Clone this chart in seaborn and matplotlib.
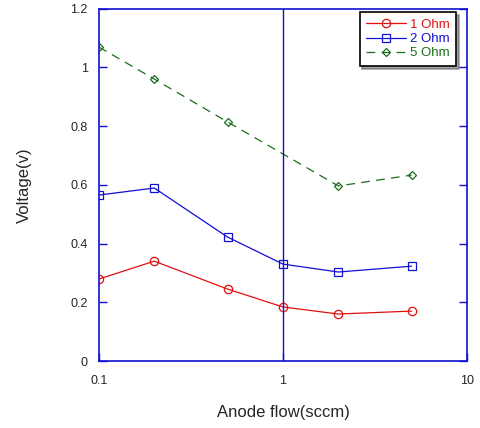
import numpy as np
import pandas as pd
import matplotlib
matplotlib.use("Agg")
import matplotlib.pyplot as plt
import seaborn as sns

sns.set_style("white")
plt.rcParams['font.family'] = ['Liberation Sans', 'DejaVu Sans']

# data
flow = [0.1, 0.2, 0.5, 1, 2, 5]
v_1ohm = [0.279, 0.340, 0.245, 0.184, 0.160, 0.170]
v_2ohm = [0.565, 0.589, 0.422, 0.330, 0.303, 0.323]
flow_5 = [0.1, 0.2, 0.5, 2, 5]
v_5ohm = [1.069, 0.960, 0.814, 0.596, 0.633]

df1 = pd.DataFrame({'flow': flow, 'v': v_1ohm})
df2 = pd.DataFrame({'flow': flow, 'v': v_2ohm})
df5 = pd.DataFrame({'flow': flow_5, 'v': v_5ohm})

fig = plt.figure(figsize=(4.8, 4.28), dpi=100)
ax = fig.add_axes([0.206, 0.1565, 0.767, 0.8235])

red = '#e01010'
blue = '#1010d0'
green = '#1a6e1a'

sns.lineplot(data=df1, x='flow', y='v', ax=ax, color=red, lw=0.9,
             marker='o', markersize=6, markerfacecolor='none',
             markeredgecolor=red, markeredgewidth=0.9, label='1 Ohm')
sns.lineplot(data=df2, x='flow', y='v', ax=ax, color=blue, lw=0.9,
             marker='s', markersize=6, markerfacecolor='none',
             markeredgecolor=blue, markeredgewidth=0.9, label='2 Ohm')
sns.lineplot(data=df5, x='flow', y='v', ax=ax, color=green, lw=0.9,
             marker='D', markersize=4, markerfacecolor='none',
             markeredgecolor=green, markeredgewidth=0.9, label='5 Ohm')
ax.lines[-1].set_dashes([7, 5])

ax.axvline(1, color=blue, lw=1)

ax.set_xscale('log')
ax.set_xlim(0.1, 10)
ax.set_ylim(0, 1.2)
ax.set_xticks([0.1, 1, 10])
ax.set_xticklabels(['0.1', '1', '10'])
ax.minorticks_off()
ax.set_yticks([0, 0.2, 0.4, 0.6, 0.8, 1, 1.2])
ax.set_yticklabels(['0', '0.2', '0.4', '0.6', '0.8', '1', '1.2'])
ax.tick_params(axis='both', direction='in', length=6, width=1, color=blue,
               labelsize=9, right=True, left=True, bottom=True, pad=8)
ax.tick_params(axis='x', pad=10)
for s in ax.spines.values():
    s.set_color(blue)
    s.set_linewidth(1.2)

ax.set_xlabel('Anode flow(sccm)', fontsize=12, labelpad=13)
ax.set_ylabel('Voltage(v)', fontsize=12, labelpad=28)

leg = ax.legend(loc='upper right', bbox_to_anchor=(0.97, 0.99), fontsize=9.5,
                frameon=True, fancybox=False, shadow=True, framealpha=1,
                handlelength=3.0, handletextpad=0.3, borderpad=0.5, labelspacing=0.15,
                borderaxespad=0)
leg.get_frame().set_edgecolor('black')
leg.get_frame().set_linewidth(1.2)
for t, c in zip(leg.get_texts(), [red, blue, green]):
    t.set_color(c)

fig.savefig('out.png', dpi=100)
